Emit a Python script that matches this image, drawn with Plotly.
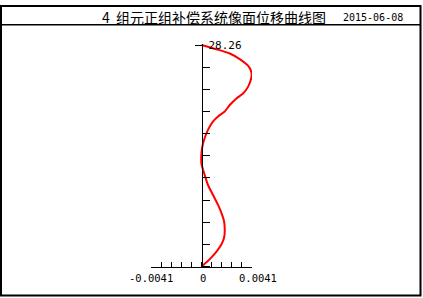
import plotly.graph_objects as go

W, H = 423, 298

# ---- data ----
title_text = "4\u00a0\u00a0组元正组补偿系统像面位移曲线图"
date_text = "2015-06-08"
y_max = 28.26
x_lim = 0.0041
x_tick_labels = ["-0.0041", "0", "0.0041"]
x_tick_label_vals = [-0.0041, 0.0, 0.0041]

disp = [0.0, 0.001215, 0.002293, 0.003103, 0.003776, 0.004052, 0.004052, 0.003776,
        0.003371, 0.002836, 0.002293, 0.001888, 0.001345, 0.00094, 0.000535, 0.000267,
        0.000081, 0.0, 0.0, 0.000267, 0.000535, 0.00094, 0.001345, 0.001621,
        0.001831, 0.001888, 0.001831, 0.001621, 0.001264, 0.00081, 0.000405, 0.0]
pos = [28.26, 27.72, 27.18, 26.47, 25.63, 24.80, 24.17, 22.92,
       22.08, 21.45, 20.61, 19.78, 19.15, 18.53, 17.47, 16.43,
       15.39, 14.55, 13.08, 11.63, 10.37, 9.12, 7.86, 6.81,
       5.77, 4.52, 3.68, 2.85, 2.01, 1.17, 0.54, 0.0]

n_div = 10
x_ticks = [-x_lim + i * 2 * x_lim / n_div for i in range(n_div + 1)]
y_ticks = [i * y_max / n_div for i in range(n_div)]

# ---- layout geometry (pixels) ----
x_left_px, x_right_px = 151.0, 252.0
y_top_px, y_bot_px = 40.7, 266.0
px_per_y = (y_bot_px - y_top_px) / y_max
pad = 0.15
y_rng = [-pad, y_max + pad]
dom_y = [(H - (y_bot_px + pad * px_per_y)) / H, (H - (y_top_px - pad * px_per_y)) / H]
x_axis_pos = (H - y_bot_px) / H
y_axis_pos = ((x_left_px + x_right_px) / 2) / W

mono = "DejaVu Sans Mono"

fig = go.Figure()
fig.add_trace(go.Scatter(x=disp, y=pos, mode="lines",
                         line=dict(color="#ff0000", width=2, shape="spline", smoothing=0.6),
                         hoverinfo="skip", showlegend=False))

fig.update_layout(
    width=W, height=H, margin=dict(l=0, r=0, t=0, b=0),
    paper_bgcolor="white", plot_bgcolor="white", showlegend=False,
    xaxis=dict(domain=[x_left_px / W, x_right_px / W], range=[-x_lim, x_lim],
               anchor="free", position=x_axis_pos,
               tickvals=x_ticks, ticks="inside", ticklen=5, tickwidth=1, tickcolor="black",
               showticklabels=False, showline=True, linecolor="black", linewidth=1,
               showgrid=False, zeroline=False, fixedrange=True),
    yaxis=dict(domain=dom_y, range=y_rng, anchor="free", position=y_axis_pos,
               tickvals=y_ticks, ticks="inside", ticklen=7, tickwidth=1, tickcolor="black",
               showticklabels=False, showline=True, linecolor="black", linewidth=1,
               showgrid=False, zeroline=False, fixedrange=True),
    yaxis2=dict(overlaying="y", range=y_rng, anchor="free", position=y_axis_pos, side="right",
                tickvals=[y_max], ticktext=[f"{y_max:.2f}"], ticks="inside", ticklen=7,
                tickwidth=1, tickcolor="black", ticklabelstandoff=6,
                tickfont=dict(family=mono, size=11, color="black"),
                showline=False, showgrid=False, zeroline=False, fixedrange=True),
)

# dummy trace to activate yaxis2
fig.add_trace(go.Scatter(x=[None], y=[None], yaxis="y2", showlegend=False, hoverinfo="skip"))

# x tick labels
shifts = [0, 1, 6]
for v, t, s in zip(x_tick_label_vals, x_tick_labels, shifts):
    fig.add_annotation(x=v, y=0, xref="x", yref="y", text=t, showarrow=False,
                       xanchor="center", yanchor="middle", xshift=s, yshift=-11,
                       font=dict(family=mono, size=10.5, color="black"))

# title & date
fig.add_annotation(x=100 / W, y=1 - 12.5 / H, xref="paper", yref="paper", text=title_text,
                   showarrow=False, xanchor="left", yanchor="middle",
                   font=dict(family="Noto Sans CJK SC", size=14, color="black"))
fig.add_annotation(x=341 / W, y=1 - 12.5 / H, xref="paper", yref="paper", text=date_text,
                   showarrow=False, xanchor="left", yanchor="middle",
                   font=dict(family=mono, size=10, color="black"))

# frame
fig.add_shape(type="rect", xref="paper", yref="paper",
              x0=1 / W, x1=420.5 / W, y0=1 - 295.5 / H, y1=1 - 1 / H,
              line=dict(color="black", width=2))
fig.add_shape(type="line", xref="paper", yref="paper",
              x0=0, x1=420.5 / W, y0=1 - 20 / H, y1=1 - 20 / H,
              line=dict(color="black", width=1.5))

fig.write_html("out.html")
